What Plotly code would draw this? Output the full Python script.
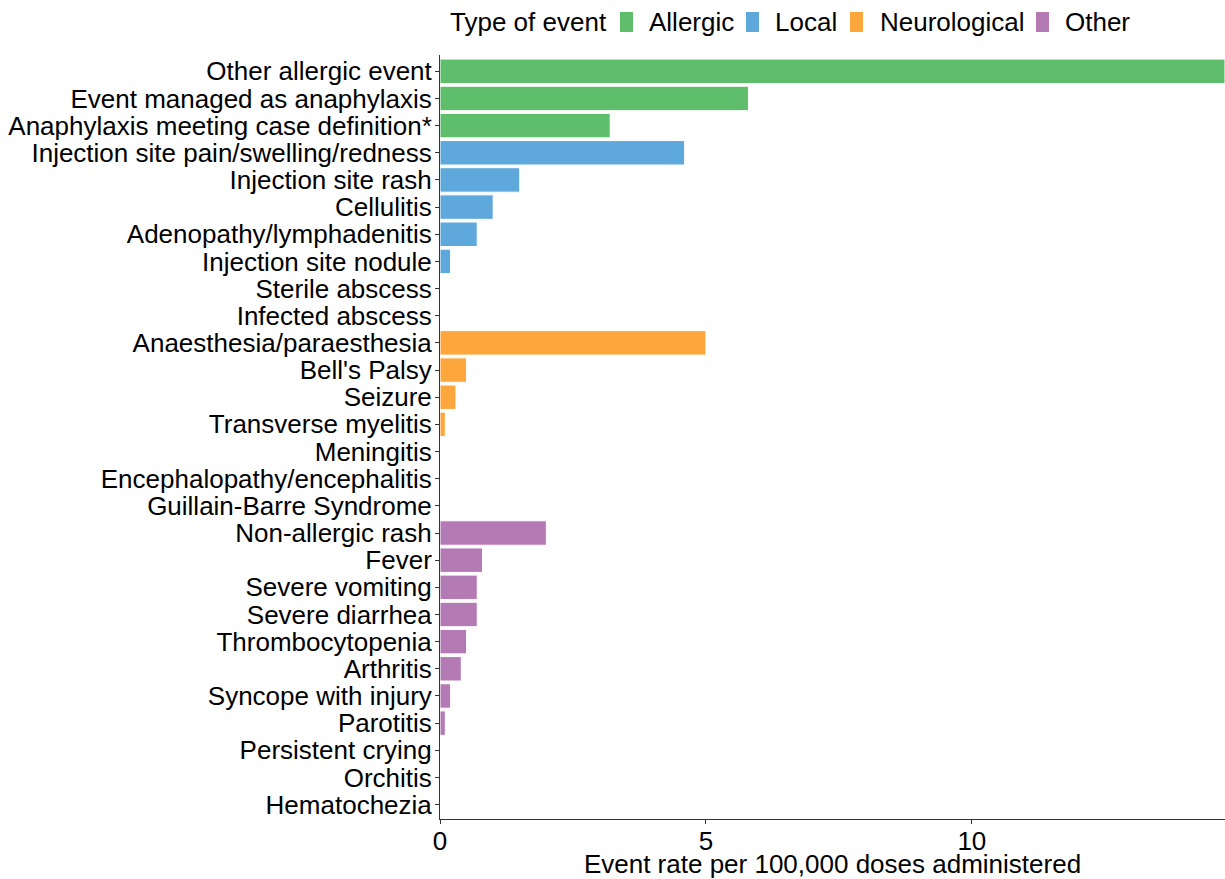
import plotly.graph_objects as go

categories = ["Other allergic event", "Event managed as anaphylaxis", "Anaphylaxis meeting case definition*",
              "Injection site pain/swelling/redness", "Injection site rash", "Cellulitis",
              "Adenopathy/lymphadenitis", "Injection site nodule", "Sterile abscess", "Infected abscess",
              "Anaesthesia/paraesthesia", "Bell's Palsy", "Seizure", "Transverse myelitis", "Meningitis",
              "Encephalopathy/encephalitis", "Guillain-Barre Syndrome", "Non-allergic rash", "Fever",
              "Severe vomiting", "Severe diarrhea", "Thrombocytopenia", "Arthritis", "Syncope with injury",
              "Parotitis", "Persistent crying", "Orchitis", "Hematochezia"]
types = (["Allergic"] * 3 + ["Local"] * 7 + ["Neurological"] * 7 + ["Other"] * 11)
rates = [14.76, 5.8, 3.2, 4.6, 1.5, 1.0, 0.7, 0.2, 0.0, 0.0,
         5.0, 0.5, 0.3, 0.1, 0.0, 0.0, 0.0,
         2.0, 0.8, 0.7, 0.7, 0.5, 0.4, 0.2, 0.1, 0.0, 0.0, 0.0]
type_order = ["Allergic", "Local", "Neurological", "Other"]
type_colors = {"Allergic": "#5fbe6b", "Local": "#5fa8dc", "Neurological": "#fca63c", "Other": "#b47ab4"}
legend_title = "Type of event"
x_title = "Event rate per 100,000 doses administered"

fig = go.Figure()
for t in type_order:
    xs = [r for r, tt in zip(rates, types) if tt == t]
    ys = [c for c, tt in zip(categories, types) if tt == t]
    fig.add_trace(go.Bar(x=xs, y=ys, orientation="h", name=t, showlegend=False,
                         marker=dict(color=type_colors[t], line=dict(color="white", width=1))))

font = "Liberation Sans, Arial, sans-serif"
fs = 26

# ---- layout geometry (page pixels; plot area spans x 440..1225, y 55..819) ----
PX0, PW, PY1, PH = 440, 785, 819, 764
def px(x):
    return (x - PX0) / PW
def py(y):
    return (PY1 - y) / PH

# custom legend (ggplot-style, top, horizontal)
leg_y = 22
swatch_x = [620, 746, 850, 1036]
label_x = [647, 773, 878, 1063]
fig.add_annotation(text=legend_title, x=px(448), y=py(leg_y), xref="paper", yref="paper",
                   xanchor="left", yanchor="middle", showarrow=False, font=dict(size=fs))
for t, sx, lx in zip(type_order, swatch_x, label_x):
    fig.add_shape(type="rect", xref="paper", yref="paper", x0=px(sx), x1=px(sx + 13),
                  y0=py(32), y1=py(12), fillcolor=type_colors[t], line=dict(width=0))
    fig.add_annotation(text=t, x=px(lx), y=py(leg_y), xref="paper", yref="paper",
                       xanchor="left", yanchor="middle", showarrow=False, font=dict(size=fs))

fig.update_layout(
    width=1225, height=879,
    paper_bgcolor="white", plot_bgcolor="white",
    margin=dict(l=440, r=0, t=55, b=60),
    bargap=0.1,
    showlegend=False,
    font=dict(family=font, size=fs, color="black"),
    xaxis=dict(range=[0, 14.76], tickvals=[0, 5, 10], ticks="outside", ticklen=4,
               tickcolor="#333333", showline=True, linecolor="#333333", linewidth=1,
               showgrid=False, zeroline=False, tickfont=dict(size=fs), ticklabelstandoff=-5,
               automargin=False,
               title=dict(text=x_title, font=dict(size=fs), standoff=1)),
    yaxis=dict(categoryorder="array", categoryarray=categories, type="category",
               tickmode="array", tickvals=categories, ticktext=categories,
               range=[27.53, -0.6], ticks="outside", ticklen=4, tickcolor="#333333",
               showline=True, linecolor="#333333", linewidth=1, showgrid=False, zeroline=False,
               automargin=False, tickfont=dict(size=fs), ticklabelstandoff=-2),
)
fig.write_html("out.html", config={"displayModeBar": False},
               post_script="document.body.style.margin='0';document.body.style.overflow='hidden';")
